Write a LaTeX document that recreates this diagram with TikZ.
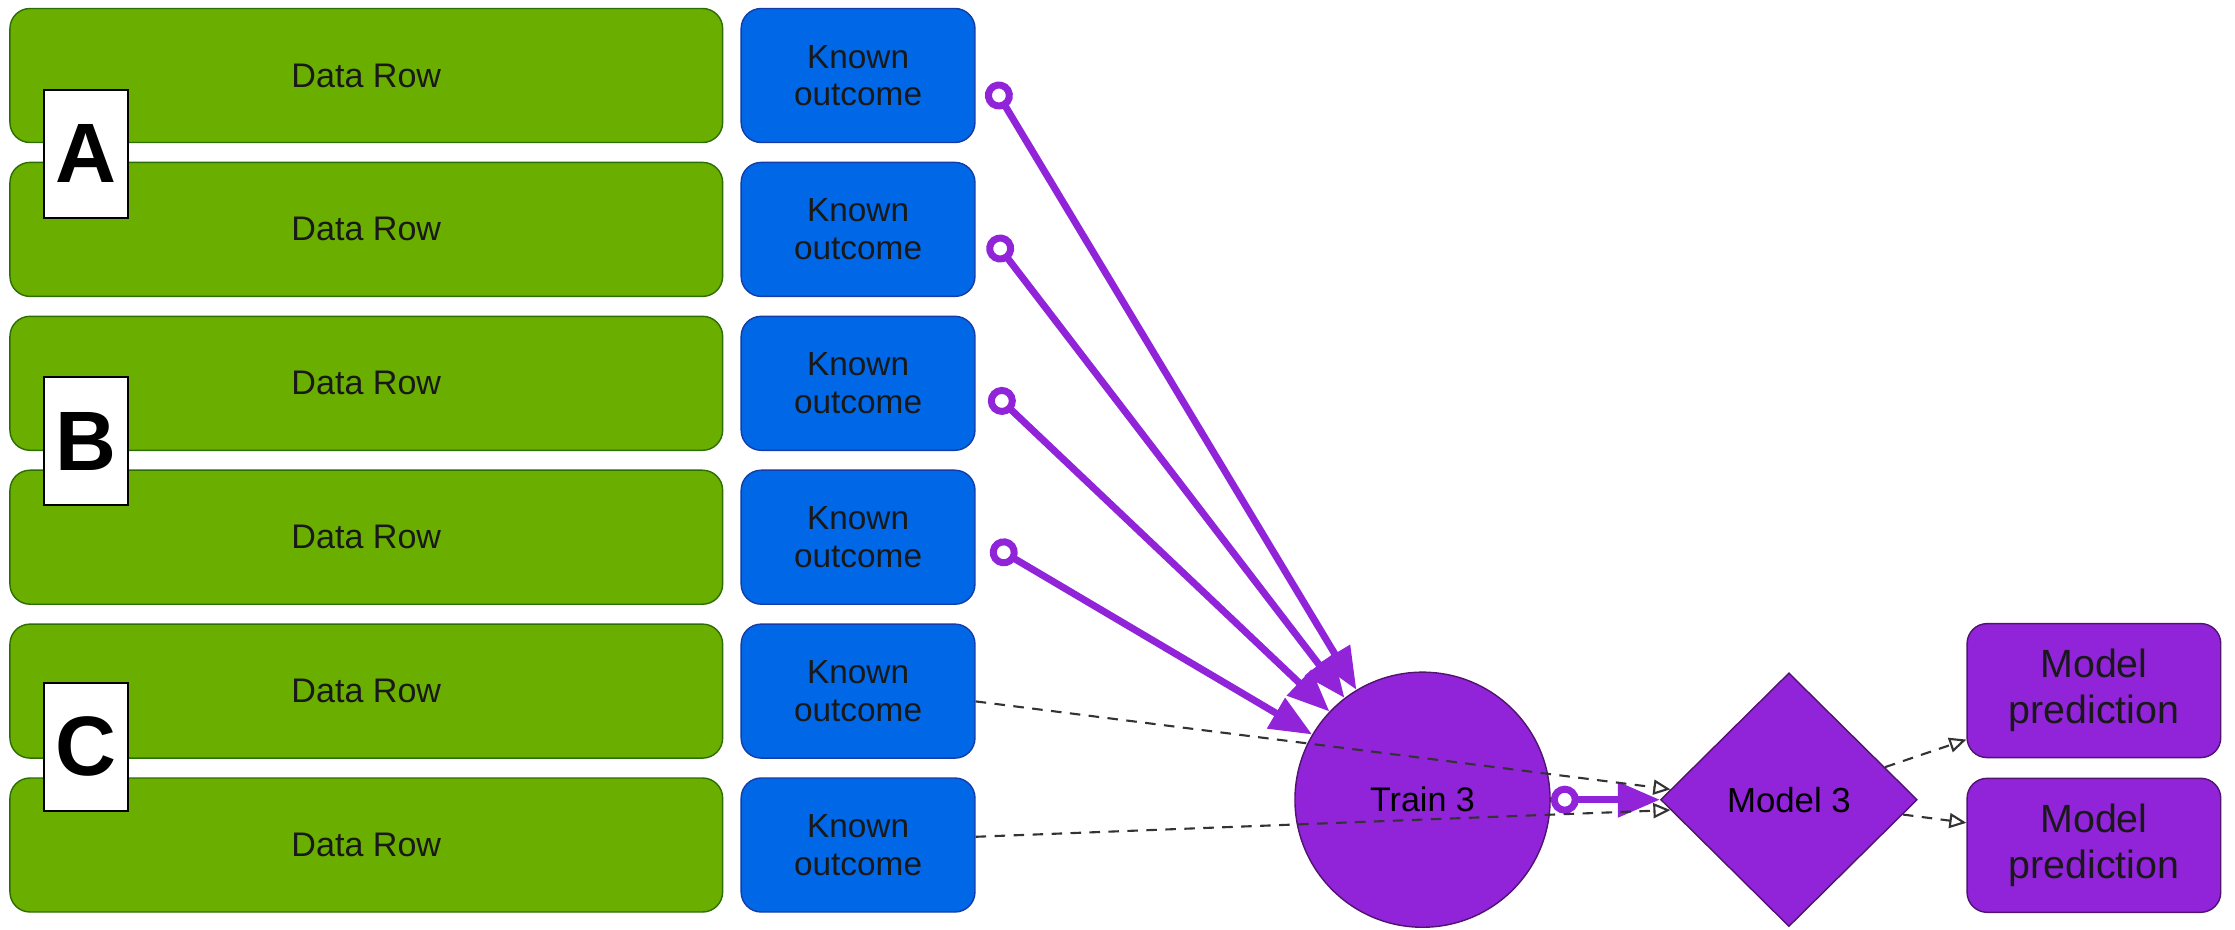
\documentclass[tikz,border=0pt]{standalone}
\usepackage{fontspec}
\setmainfont{Liberation Sans}
\usetikzlibrary{shapes.geometric, arrows.meta, positioning, calc}
\definecolor{rowgreen}{RGB}{106, 174, 0}
\definecolor{rowgreenline}{RGB}{45, 110, 0}
\definecolor{outcomeblue}{RGB}{0, 104, 230}
\definecolor{outcomeblueline}{RGB}{20, 60, 170}
\definecolor{modelpurple}{RGB}{145, 35, 217}
\definecolor{modelpurpleline}{RGB}{80, 20, 110}
\tikzset{
    box/.style={
        rectangle,
        rounded corners=0.2cm,
        line width=0.4pt,
        minimum height=1.34cm,
        align=center,
        inner sep=0pt,
        text=black!90
    },
    datarow/.style={box, fill=rowgreen, draw=rowgreenline, minimum width=7.127cm, font=\fontsize{9.7}{11}\selectfont},
    outcome/.style={box, fill=outcomeblue, draw=outcomeblueline, minimum width=2.338cm, font=\fontsize{9.5}{10.7}\selectfont},
    prediction/.style={box, fill=modelpurple, draw=modelpurpleline, minimum width=2.537cm, font=\fontsize{11.2}{13}\selectfont},
    tag/.style={
        rectangle,
        draw=black,
        line width=0.5pt,
        fill=white,
        minimum width=0.84cm,
        minimum height=1.28cm,
        inner sep=0pt,
        font=\fontsize{24}{24}\selectfont\bfseries
    },
    trainer/.style={circle, fill=modelpurple, draw=modelpurpleline, minimum size=2.551cm, inner sep=0pt, font=\fontsize{9.7}{11}\selectfont},
    model/.style={diamond, fill=modelpurple, draw=modelpurpleline, minimum width=2.566cm, minimum height=2.537cm, inner sep=0pt, font=\fontsize{9.9}{11}\selectfont},
    feed/.style={draw=modelpurple, line width=0.07cm, arrows={Circle[open, length=0.28cm]-Triangle[length=0.42cm, width=0.34cm]}},
    link/.style={draw=black!80, line width=0.6pt, dash pattern=on 3pt off 2.4pt, arrows={-Triangle[open, length=0.17cm, width=0.15cm]}}
}
\begin{document}
\begin{tikzpicture}
    \useasboundingbox (0,0) rectangle (22.35,-9.30);

    % Rows
    \foreach \i in {1,...,6} {
        \node[datarow] (row\i) at (3.663, {-0.755-1.539*(\i-1)}) {Data Row};
        \node[outcome, right=0.171cm of row\i] (o\i) {Known\\outcome};
    }

    % Group tags
    \node[tag] (tagA) at (0.862,-1.539) {A};
    \node[tag] (tagB) at (0.862,-4.412) {B};
    \node[tag] (tagC) at (0.862,-7.469) {C};

    % Model side
    \node[trainer] (train) at (14.225,-7.997) {Train 3};
    \node[model] (model3) at (17.889,-7.997) {Model 3};
    \node[prediction] (pred1) at (20.939,-6.906) {Model\\prediction};
    \node[prediction] (pred2) at (20.939,-8.453) {Model\\prediction};

    % Connections
    \foreach \i in {1,...,4} {
        \coordinate (s\i) at ($(o\i.east)+(0.16,-0.08)$);
        \path[feed] (s\i) -- (train);
    }
    \path[feed] (train) -- (model3);

    \path[link] (o5.-5) -- (model3.175);
    \path[link] (o6.4) -- (model3.185);
    \path[link] (model3) -- (pred1.201);
    \path[link] (model3) -- (pred2.170);

\end{tikzpicture}
\end{document}
